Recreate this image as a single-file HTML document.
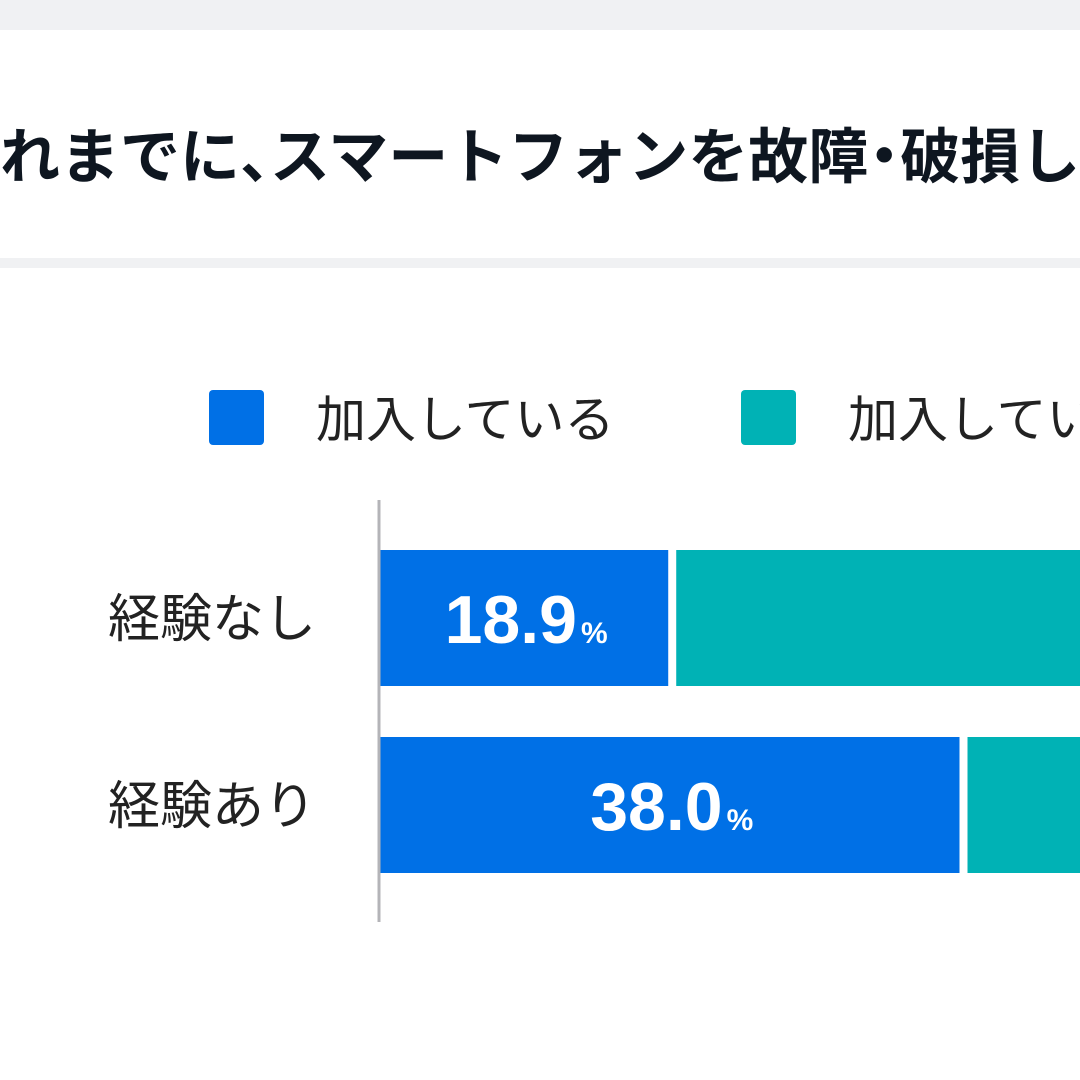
<!DOCTYPE html>
<html><head><meta charset="utf-8"><style>
body{margin:0;width:1080px;height:1080px;overflow:hidden;background:#fff;font-family:"Liberation Sans","Noto Sans CJK JP",sans-serif;position:relative}
.abs{position:absolute}
.clip{position:absolute;left:0;top:0;width:1080px;height:1080px;overflow:hidden}
.p{display:inline-block;width:30px;overflow:hidden;vertical-align:top}
</style></head><body>
<div class="clip">
<div class="abs" style="left:0;top:0;width:1080px;height:30px;background:#f0f1f3"></div>
<div class="abs" style="left:-60px;top:122px;white-space:nowrap;font-size:60px;font-weight:bold;color:#0e1620;line-height:72px">これまでに<span class="p">、</span>スマートフォンを故障<span class="p" style="text-align:center;width:32px"><span style="margin-left:-14px">・</span></span>破損した経験はありますか？</div>
<div class="abs" style="left:0;top:258px;width:1080px;height:10px;background:#f0f1f3"></div>
<div class="abs" style="left:209px;top:390px;width:55px;height:55px;background:#0070e6;border-radius:4px"></div>
<div class="abs" style="left:316px;top:390px;font-size:50px;color:#222;line-height:60px;white-space:nowrap">加入している</div>
<div class="abs" style="left:741px;top:390px;width:55px;height:55px;background:#00b2b5;border-radius:4px"></div>
<div class="abs" style="left:848px;top:390px;font-size:50px;color:#222;line-height:60px;white-space:nowrap">加入していない</div>
<svg class="abs" style="left:0;top:0" width="1080" height="1080" id="chart"></svg>
</div>
<script>
const categories=["経験なし","経験あり"];
const joined=[18.9,38.0];
const notJoined=[81.1,62.0];
const x0=380, pxPer=15.25, gap=8;
const rowTop=[550,737], barH=136;
const svg=document.getElementById('chart');
const NS='http://www.w3.org/2000/svg';
function xs(v){return v*pxPer;}
function mk(t,a){const e=document.createElementNS(NS,t);for(const k in a)e.setAttribute(k,a[k]);svg.appendChild(e);return e;}
categories.forEach((c,i)=>{
  const y=rowTop[i];
  const w1=xs(joined[i]);
  const b1=mk('rect',{x:x0,y:y,width:w1,height:barH,fill:'#0070e6'});
  
  
  const b2=mk('rect',{x:x0+w1+gap,y:y,width:xs(notJoined[i]),height:barH,fill:'#00b2b5'});
  
  
  const lab=mk('text',{x:316,y:y+barH/2+19,'text-anchor':'end','font-size':52,fill:'#222'});
  lab.textContent=c;
  
  
  const val=mk('text',{x:x0+w1/2+2,y:y+93,'text-anchor':'middle',fill:'#fff','font-weight':'bold','font-size':68});
  
  
  val.textContent=joined[i].toFixed(1);
  const ts=document.createElementNS(NS,'tspan');ts.setAttribute('font-size',30);ts.setAttribute('dx',4);ts.textContent='%';val.appendChild(ts);
});
const ax=mk('line',{x1:379,y1:500,x2:379,y2:922,stroke:'#b4b4b8','stroke-width':3});


</script>
</body></html>
